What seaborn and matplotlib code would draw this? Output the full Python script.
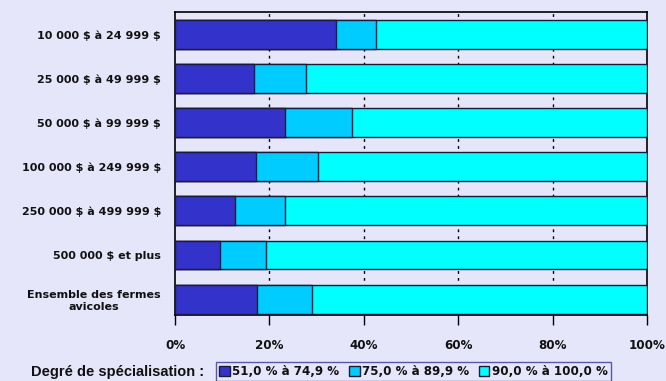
import matplotlib
matplotlib.use("Agg")
import matplotlib.pyplot as plt
import seaborn as sns
import pandas as pd
from matplotlib.patches import Patch
from matplotlib.ticker import FuncFormatter

categories = [
    "10 000 $ à 24 999 $",
    "25 000 $ à 49 999 $",
    "50 000 $ à 99 999 $",
    "100 000 $ à 249 999 $",
    "250 000 $ à 499 999 $",
    "500 000 $ et plus",
    "Ensemble des fermes\navicoles",
]
series_names = ["51,0 % à 74,9 %", "75,0 % à 89,9 %", "90,0 % à 100,0 %"]
low = [34.2, 16.8, 23.4, 17.1, 12.7, 9.5, 17.4]
mid = [8.3, 10.9, 14.1, 13.1, 10.7, 9.7, 11.7]
high = [57.5, 72.3, 62.5, 69.8, 76.6, 80.8, 70.9]
colors = ["#3333CC", "#00CCFF", "#00FFFF"]
bg = "#E6E6FA"

sns.set_theme(style="white")
plt.rcParams["font.family"] = ["DejaVu Sans"]
plt.rcParams["text.parse_math"] = False

df = pd.DataFrame({"cat": categories, "low": low, "mid": mid, "high": high})
df["c1"] = df["low"]
df["c2"] = df["low"] + df["mid"]
df["c3"] = df["low"] + df["mid"] + df["high"]

fig = plt.figure(figsize=(6.66, 3.81), dpi=100, facecolor=bg)
ax = fig.add_axes([175 / 666, 1 - 315 / 381, 472 / 666, 303 / 381])
ax.set_facecolor(bg)

# stacked bars: draw cumulative totals from the widest down
for col, c in zip(["c3", "c2", "c1"], colors[::-1]):
    sns.barplot(data=df, x=col, y="cat", color=c, orient="h", width=0.655,
                edgecolor="#1a1a3a", linewidth=1.0, saturation=1, ax=ax, zorder=3)

ax.set_xlim(0, 100)
ax.set_ylim(6.36, -0.51)
ax.set_xlabel("")
ax.set_ylabel("")
ax.set_xticks([0, 20, 40, 60, 80, 100])
ax.xaxis.set_major_formatter(FuncFormatter(lambda v, p: f"{int(v)}%"))
for v in [20, 40, 60, 80]:
    ax.axvline(v, color="black", linestyle=(0, (2, 3)), linewidth=1.0, zorder=1)

for s in ax.spines.values():
    s.set_visible(True)
    s.set_color("black")
    s.set_linewidth(1.2)

ax.tick_params(axis="x", which="major", direction="out", length=7, width=1,
               color="black", pad=10, bottom=True)
ax.tick_params(axis="y", length=0, pad=10)
for lab in ax.get_xticklabels():
    lab.set_fontsize(8.6)
    lab.set_fontweight("bold")
    lab.set_color("#111111")
for lab in ax.get_yticklabels():
    lab.set_fontsize(8.0)
    lab.set_fontweight("bold")
    lab.set_color("#111111")
    lab.set_multialignment("center")

handles = [Patch(facecolor=c, edgecolor="#1a1a3a", linewidth=1.0, label=n)
           for c, n in zip(colors, series_names)]
leg = fig.legend(handles=handles, loc="lower left",
                 bbox_to_anchor=(210 / 666, -0.015), ncol=3, frameon=True,
                 fancybox=False, handlelength=0.9, handleheight=0.9,
                 handletextpad=0.2, columnspacing=0.8, borderpad=0.25,
                 prop={"weight": "bold", "size": 8.6, "family": "DejaVu Sans"})
leg.get_frame().set_edgecolor("#333399")
leg.get_frame().set_facecolor(bg)
leg.get_frame().set_linewidth(1.0)
for t in leg.get_texts():
    t.set_color("#111111")

fig.text(204 / 666, 1 - 372 / 381, "Degré de spécialisation :", ha="right",
         va="center", fontsize=10.5, fontweight="bold", color="#111111",
         family="Liberation Sans")

fig.savefig("out.png", dpi=100, facecolor=bg)
